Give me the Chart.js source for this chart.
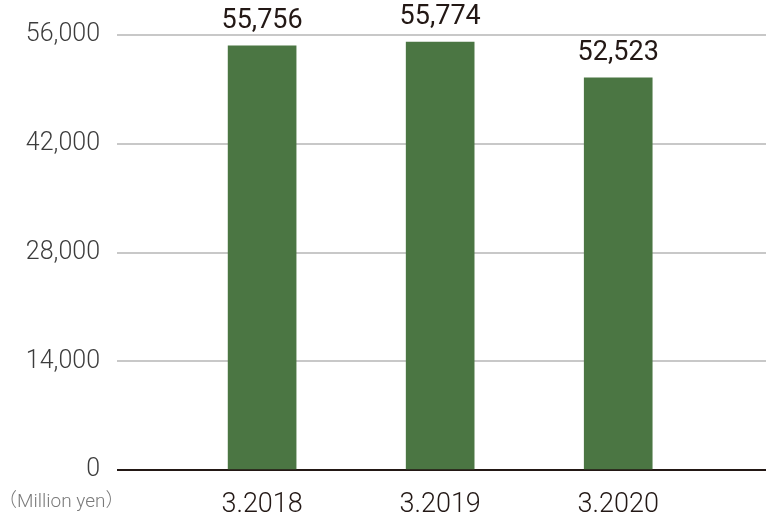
<!DOCTYPE html>
<html>
<head>
<meta charset="utf-8">
<script src="https://cdn.jsdelivr.net/npm/chart.js@4"></script>
<style>
  html, body { margin: 0; padding: 0; background: #fff; }
  #wrap { width: 766px; height: 522px; position: relative; }
</style>
</head>
<body>
<div id="wrap"><canvas id="salesChart"></canvas></div>
<script>
// fiscal years
const categories = ['3.2018', '3.2019', '3.2020'];
// bar heights as drawn in the picture (million yen)
const barValues = [54600, 55100, 50500];
// printed value labels
const valueLabels = ['55,756', '55,774', '52,523'];
// y axis ticks
const yTicks = [0, 14000, 28000, 42000, 56000];
const unitLabel = '（Million yen）';

const green = '#4b7643';
const dark = '#231815';

// draws the value labels above each bar and the unit note
const labelsPlugin = {
  id: 'barLabels',
  afterDatasetsDraw(chart) {
    const { ctx } = chart;
    const meta = chart.getDatasetMeta(0);
    ctx.save();
    ctx.fillStyle = dark;
    ctx.font = '400 27px Roboto';
    ctx.textAlign = 'center';
    ctx.textBaseline = 'alphabetic';
    meta.data.forEach((bar, i) => {
      ctx.fillText(valueLabels[i], bar.x, bar.y - 18);
    });
    ctx.fillStyle = '#7a7a7a';
    ctx.font = '300 19px Roboto, "Noto Sans CJK JP"';
    ctx.textAlign = 'left';
    ctx.textBaseline = 'middle';
    ctx.fillText(unitLabel, -2, 502);
    ctx.restore();
  }
};

document.addEventListener('DOMContentLoaded', () => {
  const el = document.getElementById('salesChart');
  new Chart(el, {
    type: 'bar',
    data: {
      datasets: [{
        data: barValues.map((v, i) => ({ x: i, y: v })),
        backgroundColor: green,
        barThickness: 68,
      }]
    },
    plugins: [labelsPlugin],
    options: {
      responsive: true,
      maintainAspectRatio: false,
      animation: false,
      layout: { padding: { top: 35, right: 0, bottom: 0, left: 0 } },
      plugins: { legend: { display: false }, tooltip: { enabled: false } },
      scales: {
        x: {
          type: 'linear',
          offset: false,
          min: -0.815,
          max: 2.83,
          afterBuildTicks: scale => { scale.ticks = categories.map((c, i) => ({ value: i })); },
          afterFit: scale => { scale.height = 52; },
          grid: { display: false, drawTicks: false },
          border: { display: false },
          ticks: {
            padding: 19,
            color: dark,
            font: { family: 'Roboto', size: 27, weight: '300' },
            callback: v => categories[v] ?? '',
          }
        },
        y: {
          min: 0,
          max: 56000,
          afterBuildTicks: scale => { scale.ticks = yTicks.map(v => ({ value: v })); },
          afterFit: scale => { scale.width = 117; },
          grid: {
            drawTicks: false,
            lineWidth: 2,
            color: c => (c.tick && c.tick.value === 0 ? dark : '#c8c8c8'),
          },
          border: { display: false },
          ticks: {
            padding: 17,
            color: '#3c3c3c',
            font: { family: 'Roboto', size: 25, weight: '300' },
            callback: v => v.toLocaleString('en-US'),
          }
        }
      }
    }
  });
});
</script>
</body>
</html>
